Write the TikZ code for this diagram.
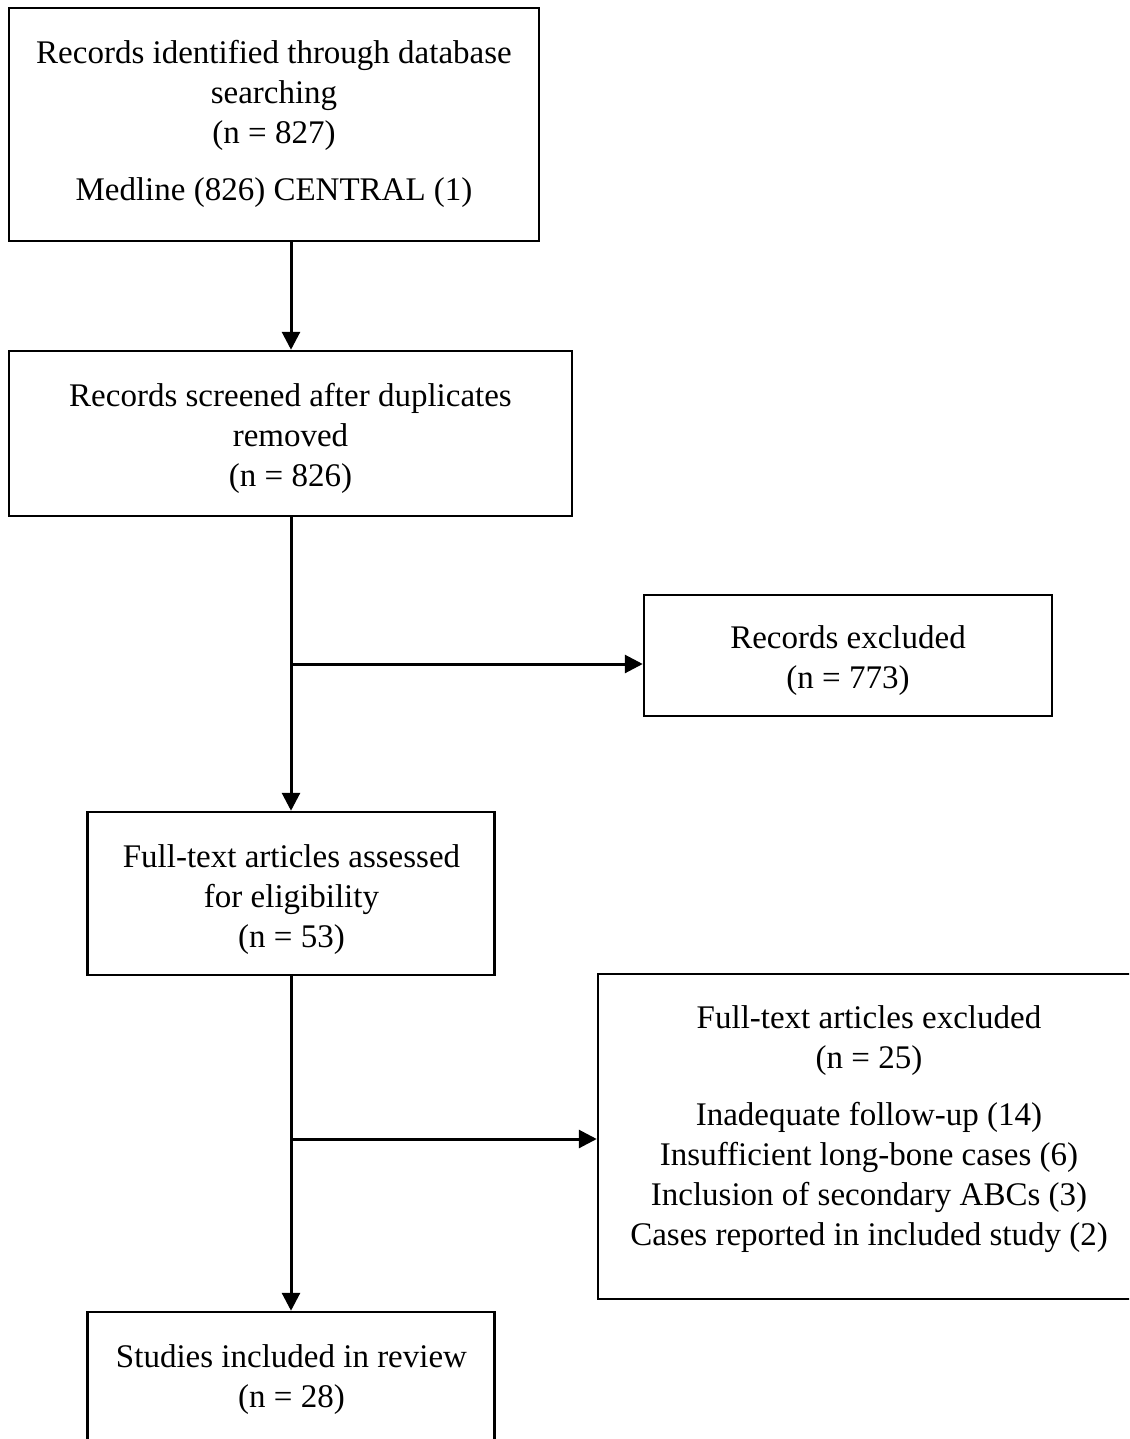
\documentclass[tikz,border=0pt]{standalone}
\usepackage{fontspec}
\setmainfont{Liberation Serif}
\usetikzlibrary{arrows.meta}
\begin{document}
\begin{tikzpicture}[x=1pt,y=-1pt,
  boxnode/.style={draw=black,line width=2.5pt,inner sep=0pt,minimum width=#1},
  txt/.style={align=center,inner sep=0pt,font=\fontsize{33}{40}\selectfont},
  conn/.style={line width=3pt},
  arr/.style={line width=3pt,-{Triangle[length=18pt,width=18pt]}}]
\clip (0,0) rectangle (1129,1439);
\fill[white] (0,0) rectangle (1129,1439);
% boxes (centre, width, height)
\node[boxnode=530pt,minimum height=233pt] (b1) at (274,124.5) {};
\node[boxnode=563pt,minimum height=165pt] (b2) at (290.5,433.5) {};
\node[boxnode=408pt,minimum height=121pt] (b3) at (848,655.5) {};
\node[boxnode=407pt,minimum height=163pt] (b4) at (291,893.5) {};
\node[boxnode=542pt,minimum height=325pt] (b5) at (869,1136.5) {};
\node[boxnode=407pt,minimum height=163pt] (b6) at (291,1393.5) {};
% texts
\node[txt] (t1) at (274,123.5) {Records identified through database\\searching\\(n = 827)\\[17pt]Medline (826) CENTRAL (1)};
\node[txt] (t2) at (290.5,438) {Records screened after duplicates\\removed\\(n = 826)};
\node[txt] (t3) at (848,660.5) {Records excluded\\(n = 773)};
\node[txt] (t4) at (291.5,900) {Full-text articles assessed\\for eligibility\\(n = 53)};
\node[txt] (t5) at (869,1129.5) {Full-text articles excluded\\(n = 25)\\[17pt]Inadequate follow-up (14)\\Insufficient long-bone cases (6)\\Inclusion of secondary ABCs (3)\\Cases reported in included study (2)};
\node[txt] (t6) at (291.5,1380) {Studies included in review\\(n = 28)};
% connectors
\coordinate (j1) at (b4.north |- 0,664);
\coordinate (j2) at (b4.south |- 0,1139);
\draw[arr] (b1.south -| b4.north) -- (b2.north -| b4.north);
\draw[conn] (b2.south -| j1) -- (j1);
\draw[arr] (j1) -- (b4.north);
\draw[arr] (j1) -- (j1 -| b3.west);
\draw[conn] (b4.south) -- (j2);
\draw[arr] (j2) -- (b6.north);
\draw[arr] (j2) -- (j2 -| b5.west);
\end{tikzpicture}
\end{document}
